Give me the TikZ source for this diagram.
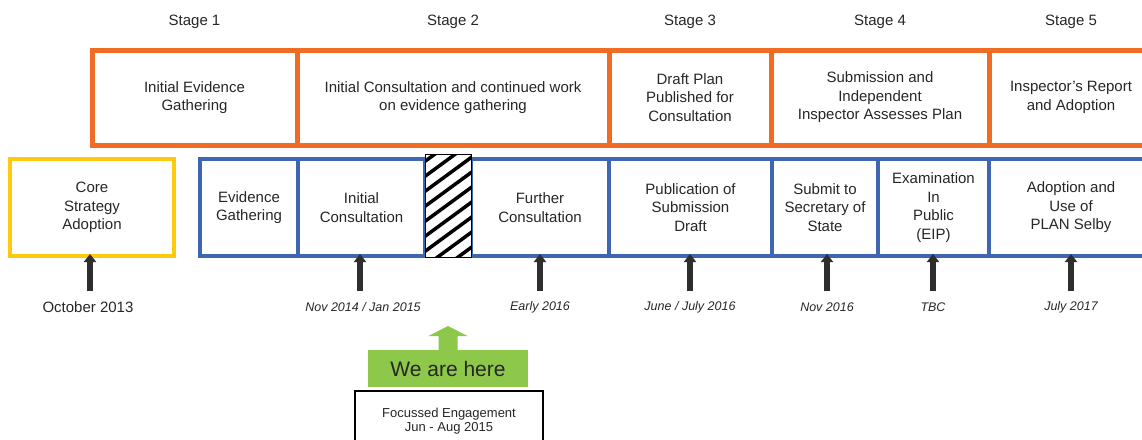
\documentclass[tikz,border=0pt]{standalone}
\usepackage{fontspec}
\setmainfont{Liberation Sans}
\usetikzlibrary{arrows.meta}
\definecolor{orng}{HTML}{F26B24}
\definecolor{blu}{HTML}{3F67B1}
\definecolor{yel}{HTML}{FFC90E}
\definecolor{grn}{HTML}{8DC84A}
\definecolor{txt}{HTML}{262626}
\definecolor{arrowgray}{HTML}{2E2E2E}
\begin{document}
\begin{tikzpicture}[x=1pt,y=-1pt,
  every node/.style={text=txt, font=\fontsize{15}{18.5}\selectfont, align=center, inner sep=0pt},
  obox/.style={draw=orng, line width=5pt, minimum height=95pt},
  bbox/.style={draw=blu, line width=4pt, minimum height=97pt},
  ybox/.style={draw=yel, line width=4pt, minimum height=97pt, minimum width=164pt},
  datelbl/.style={font=\fontsize{12.5}{15}\selectfont\itshape},
  uparrow/.style={draw=arrowgray, line width=5.5pt, -{Triangle[width=12pt,length=8pt]}, shorten >=-4pt},
]
\useasboundingbox (0,0) rectangle (1142,439);
\clip (0,0) rectangle (1142,439);

% stage labels
\node (s1) at (194.5,22) {Stage 1};
\node (s2) at (453,22) {Stage 2};
\node (s3) at (690,22) {Stage 3};
\node (s4) at (880,22) {Stage 4};
\node (s5) at (1071,22) {Stage 5};

% orange stage row
\node[obox, minimum width=205pt] (o1) at (194.5,97.5) {Initial Evidence\\Gathering};
\node[obox, minimum width=312pt] (o2) at (453,97.5) {Initial Consultation and continued work\\on evidence gathering};
\node[obox, minimum width=162pt] (o3) at (690,97.5) {Draft Plan\\Published for\\Consultation};
\node[obox, minimum width=218pt] (o4) at (880,97.5) {Submission and\\Independent\\Inspector Assesses Plan};
\node[obox, minimum width=164pt] (o5) at (1071,97.5) {Inspector's Report\\and Adoption};

% yellow box
\node[ybox] (core) at (92,207.5) {Core\\Strategy\\Adoption};

% blue row
\node[bbox, minimum width=98pt] (b1) at (249,207.5) {Evidence\\Gathering};
\node[bbox, minimum width=127pt] (b2) at (361.5,207.5) {Initial\\Consultation};
\node[bbox, minimum width=138pt] (b3) at (540,207.5) {Further\\Consultation};
\node[bbox, minimum width=163pt] (b4) at (690.5,207.5) {Publication of\\Submission\\Draft};
\node[bbox, minimum width=106pt] (b5) at (825,207.5) {Submit to\\Secretary of\\State};
\node[bbox, minimum width=111pt] (b6) at (933.5,207.5) {Examination\\In\\Public\\(EIP)};
\node[bbox, minimum width=164pt] (b7) at (1071,207.5) {Adoption and\\Use of\\PLAN Selby};

% hatched box
\node[fill=white, minimum width=46pt, minimum height=103pt, outer sep=0pt] (hb) at (448.5,206) {};
\begin{scope}
  \clip (hb.south west) rectangle (hb.north east);
  \foreach \k in {0,...,11} {
    \draw[line width=3.5pt] (420,165+\k*15) -- ++(60,-44);
  }
\end{scope}
\draw[line width=1.8pt] (hb.south west) rectangle (hb.north east);

% date labels
\node (d1) at (88,307) {October 2013};
\node[datelbl] (d2) at (363,307) {Nov 2014 / Jan 2015};
\node[datelbl] (d3) at (540,307) {Early 2016};
\node[datelbl] (d4) at (690,307) {June / July 2016};
\node[datelbl] (d5) at (827,307) {Nov 2016};
\node[datelbl] (d6) at (933,307) {TBC};
\node[datelbl] (d7) at (1071,307) {July 2017};

% arrow starts
\coordinate (a1) at (90,291);
\coordinate (a2) at (360,291);
\coordinate (a3) at (540,291);
\coordinate (a4) at (690,291);
\coordinate (a5) at (827,291);
\coordinate (a6) at (933,291);
\coordinate (a7) at (1071,291);
\draw[uparrow] (a1) -- (a1 |- core.south);
\draw[uparrow] (a2) -- (a2 |- b2.south);
\draw[uparrow] (a3) -- (a3 |- b3.south);
\draw[uparrow] (a4) -- (a4 |- b4.south);
\draw[uparrow] (a5) -- (a5 |- b5.south);
\draw[uparrow] (a6) -- (a6 |- b6.south);
\draw[uparrow] (a7) -- (a7 |- b7.south);

% we are here
\node[fill=grn, minimum width=160pt, minimum height=37pt, outer sep=0pt,
      font=\fontsize{21}{25}\selectfont, text=black!85] (here) at (448,368.5) {We are here};
\fill[grn] ([xshift=-9.5pt,yshift=-0.5pt]here.north) -- ++(0,-14.5) -- ++(-10,0)
  -- ++(19.5,-10) -- ++(19.5,10) -- ++(-10,0) -- ++(0,14.5) -- cycle;

% focussed engagement
\node[draw=black, line width=1.3pt, minimum width=188pt, minimum height=60pt, outer sep=0pt,
      font=\fontsize{13}{14.5}\selectfont] (fe) at (449,421) {Focussed Engagement\\Jun - Aug 2015};
\end{tikzpicture}
\end{document}
